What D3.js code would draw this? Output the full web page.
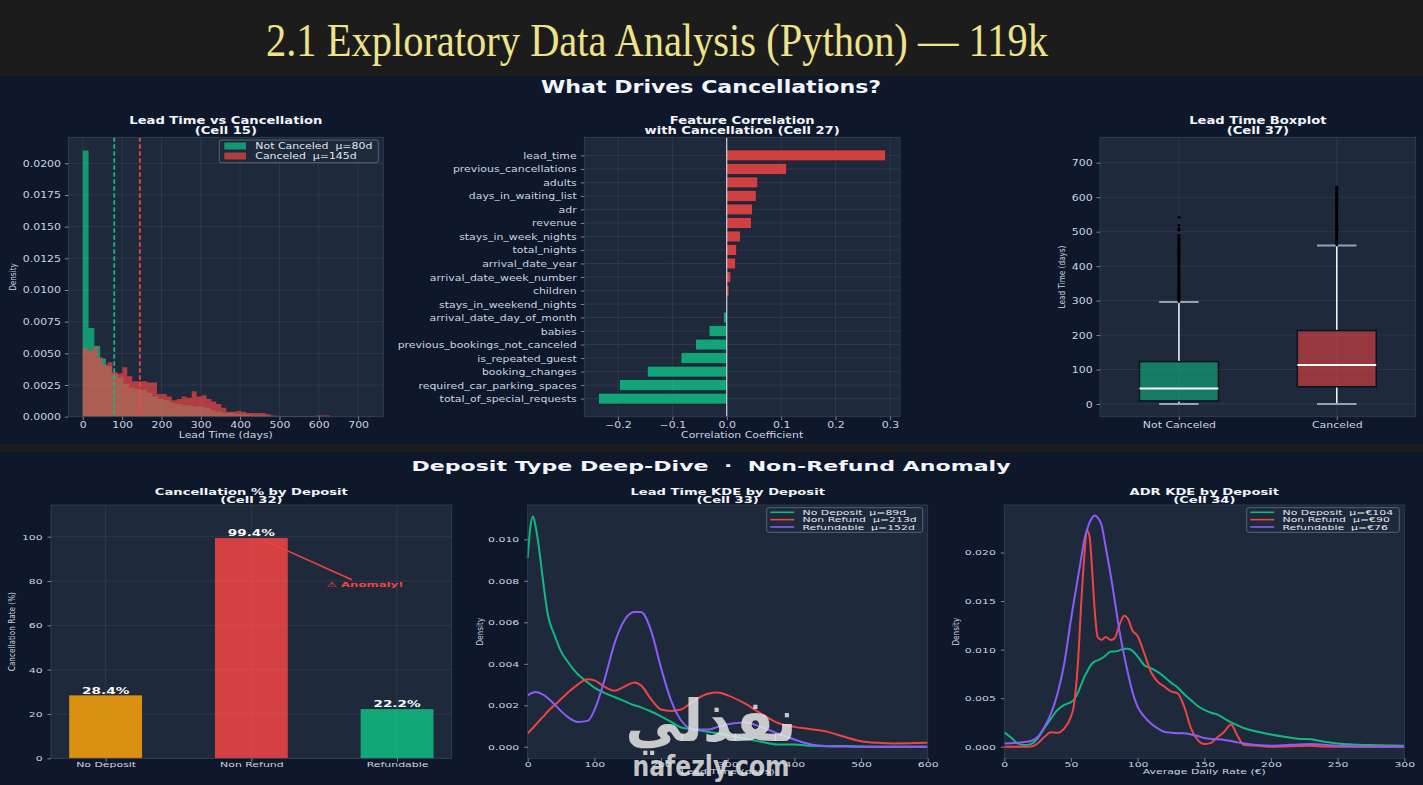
<!DOCTYPE html>
<html><head><meta charset="utf-8">
<script src="https://cdn.jsdelivr.net/npm/d3@7"></script>
<style>body{margin:0;background:#1c1c1c;overflow:hidden}svg{display:block}</style>
</head><body><svg id="c" width="1423" height="785"></svg>
<script>
// ---------------- DATA ----------------
const pageTitle = "2.1 Exploratory Data Analysis (Python) — 119k";
const topHeading = "What Drives Cancellations?";
const bottomHeading = "Deposit Type Deep-Dive  ·  Non-Refund Anomaly";

// Lead time histograms (density, 50 bins each)
const histRangeNotCanceled = [0, 737];
const histNotCanceled = [0.0210,0.0070,0.0056,0.0046,0.0040,0.0034,0.0031,0.0026,0.0023,0.0022,
  0.0021,0.0019,0.0016,0.0014,0.0013,0.0011,0.0010,0.0009,0.0009,0.0008,
  0.0008,0.0007,0.0005,0.0004,0.0003,0.0003,0.0002,0.0002,0.00015,0.0001,
  0.0001,0.00008,0.00005,0.00004,0.00003,0.00002,0.00002,0.00001,0.00001,0.00001,
  0.00001,0,0,0,0,0,0,0,0,0.00001];
const histRangeCanceled = [0, 629];
const histCanceled = [0.0054,0.0052,0.0055,0.0047,0.0041,0.0043,0.0035,0.0034,0.0039,0.0032,
  0.0028,0.0028,0.0028,0.0027,0.0027,0.0018,0.0018,0.0016,0.0013,0.0014,
  0.0016,0.0015,0.0020,0.0016,0.0017,0.0014,0.0012,0.0010,0.0007,0.0004,
  0.0004,0.00045,0.0004,0.0003,0.0003,0.0003,0.0003,0.0002,0.0001,0.00008,
  0.00006,0.00006,0.00005,0.00005,0.00005,0.00005,0.00005,0.0001,0.0001,0.0001];
const leadMeans = [80, 145];
const histLegend = ["Not Canceled  μ=80d", "Canceled  μ=145d"];
const histXTicks = [0,100,200,300,400,500,600,700];
const histYTicks = [0,0.0025,0.005,0.0075,0.01,0.0125,0.015,0.0175,0.02];

// Feature correlation
const corrFeatures = ["lead_time","previous_cancellations","adults","days_in_waiting_list","adr","revenue",
  "stays_in_week_nights","total_nights","arrival_date_year","arrival_date_week_number","children",
  "stays_in_weekend_nights","arrival_date_day_of_month","babies","previous_bookings_not_canceled",
  "is_repeated_guest","booking_changes","required_car_parking_spaces","total_of_special_requests"];
const corrValues = [0.292,0.110,0.057,0.054,0.047,0.045,0.025,0.018,0.016,0.0075,0.004,-0.0018,-0.006,
  -0.0325,-0.057,-0.084,-0.146,-0.197,-0.2355];
const corrXTicks = [-0.2,-0.1,0,0.1,0.2,0.3];

// Boxplot
const boxGroups = ["Not Canceled","Canceled"];
const boxLow = [0, 0];
const boxQ1 = [9, 50];
const boxMedian = [45, 113];
const boxQ3 = [123, 213];
const boxHigh = [296, 460];
const outliersNotCanceled = [297,300,302,305,308,310,313,316,318,321,324,327,329,332,335,338,341,343,346,349,
  352,355,357,360,363,366,369,371,374,377,380,383,386,389,392,395,398,401,404,407,410,413,416,419,422,425,
  428,431,434,437,440,443,446,449,452,455,458,461,464,467,470,473,476,479,482,489,504,509,518,542];
const outliersCanceled = [462,465,468,471,474,477,480,483,486,489,492,495,498,501,504,507,510,513,516,519,
  522,525,528,531,534,537,540,543,546,549,552,555,558,561,564,567,570,573,576,579,582,585,588,591,594,597,
  600,603,606,609,612,615,618,622,626,629];
const boxYTicks = [0,100,200,300,400,500,600,700];

// Cancellation % by deposit
const depositTypes = ["No Deposit","Non Refund","Refundable"];
const cancelRate = [28.4, 99.4, 22.2];
const barYTicks = [0,20,40,60,80,100];
const anomalyText = "⚠ Anomaly!";
const anomalyFrom = [1.08, 98.6];
const anomalyTo = [1.69, 80.6];
const anomalyLabelAt = [1.78, 77.5];

// Lead time KDE by deposit
const leadKdeX = [0,4,8,12,16,20,25,30,40,50,60,75,90,100,115,130,145,160,170,185,200,215,230,250,270,285,
  300,325,350,375,400,425,450,475,500,525,550,600];
const leadKdeNoDeposit = [0.0091,0.0106,0.0111,0.0106,0.0098,0.0088,0.0075,0.0064,0.0054,0.0046,0.0041,0.0035,
  0.0031,0.00285,0.0026,0.0024,0.0022,0.0020,0.0019,0.0017,0.00147,0.0012,0.00093,0.00083,0.00072,0.00065,
  0.00056,0.0004,0.00024,0.00011,0.00011,0.00005,0.00003,0.00004,0.00001,0,0,0];
const leadKdeNonRefund = [0.00064,0.00078,0.00092,0.00106,0.0012,0.00135,0.0015,0.0017,0.002,0.0023,0.0026,0.0030,
  0.00325,0.0032,0.0029,0.0027,0.0029,0.0031,0.00296,0.0023,0.0018,0.00173,0.0018,0.00224,0.00256,0.00262,
  0.00248,0.0021,0.0016,0.00115,0.00096,0.00085,0.00072,0.00048,0.00027,0.00019,0.00016,0.00019];
const leadKdeRefundable = [0.00248,0.00256,0.00262,0.00264,0.00262,0.00256,0.00248,0.00235,0.00205,0.00172,0.00144,
  0.0012,0.00125,0.00176,0.0032,0.00496,0.0061,0.0065,0.0065,0.0056,0.0038,0.00224,0.00128,0.00083,0.00083,
  0.00096,0.00109,0.00117,0.00096,0.00064,0.00035,0.00011,0.00003,0.00001,0,0,0,0];
const leadKdeLegend = ["No Deposit  μ=89d","Non Refund  μ=213d","Refundable  μ=152d"];
const leadKdeXTicks = [0,100,200,300,400,500,600];
const leadKdeYTicks = [0,0.002,0.004,0.006,0.008,0.010];

// ADR KDE by deposit
const adrKdeX = [0,5,10,15,20,25,30,35,40,45,50,52,55,58,60,62,64,66,68,70,73,76,80,83,86,90,93,96,100,105,110,
  115,120,125,130,135,140,145,150,155,160,165,170,175,180,190,200,210,220,230,240,250,275,300];
const adrKdeNoDeposit = [0.00148,0.00096,0.00034,0.00017,0.00027,0.00086,0.0019,0.0029,0.0038,0.0043,0.0046,0.0048,
  0.0055,0.0065,0.0072,0.0077,0.0082,0.0086,0.0088,0.0089,0.0091,0.0094,0.0098,0.0098,0.0099,0.0101,0.0101,
  0.0099,0.0093,0.0084,0.0081,0.0077,0.0072,0.0066,0.0061,0.0054,0.0048,0.0042,0.0038,0.0035,0.0033,0.0029,
  0.0025,0.0022,0.0019,0.00155,0.00127,0.00103,0.00082,0.00076,0.00052,0.00034,0.00017,0.0001];
const adrKdeNonRefund = [0,0,0,0,0.00002,0.00034,0.001,0.0015,0.00144,0.0019,0.0031,0.0041,0.0082,0.0155,0.0196,
  0.0223,0.0216,0.0179,0.0137,0.0113,0.0110,0.0113,0.0110,0.0112,0.0124,0.0135,0.0131,0.0120,0.0114,0.0096,
  0.0077,0.0067,0.0062,0.0057,0.0055,0.0041,0.0019,0.0007,0.00027,0.0004,0.001,0.00155,0.0023,0.0011,0.00017,
  0.0001,0,0.00003,0.00008,0.0001,0.00003,0,0,0];
const adrKdeRefundable = [0.00034,0.00037,0.0004,0.0005,0.0006,0.001,0.002,0.0034,0.0055,0.0086,0.0131,0.0148,
  0.0172,0.0197,0.0213,0.0223,0.0231,0.0236,0.0238,0.0236,0.0228,0.0206,0.0175,0.0149,0.0122,0.0093,0.0074,
  0.0057,0.0041,0.0031,0.0024,0.0019,0.00155,0.00145,0.0014,0.0014,0.00127,0.0011,0.0009,0.0008,0.00076,0.0007,
  0.0006,0.00045,0.00034,0.00017,0.0001,0.00015,0.00024,0.00027,0.0002,0.0001,0.00002,0];
const adrKdeLegend = ["No Deposit  μ=€104","Non Refund  μ=€90","Refundable  μ=€76"];
const adrKdeXTicks = [0,50,100,150,200,250,300];
const adrKdeYTicks = [0,0.005,0.010,0.015,0.020];

// ---------------- STYLE ----------------
const FONT = "'DejaVu Sans', Verdana, sans-serif";
const FIGBG = '#0f172a', AXBG = '#1e293b', EDGE = '#334155';
const GRID = 'rgba(148,163,184,0.16)', TXT = '#cbd5e1', TTL = '#f1f5f9', TICK = '#94a3b8';
const GREEN = '#10b981', RED = '#ef4444', AMBER = '#f59e0b', PURPLE = '#8b5cf6';
const SX = 1.3;            // horizontal stretch of the figure text
const SYT = 1.0, SYB = 0.8; // vertical factor top / bottom figures

const svg = d3.select('#c');
svg.append('rect').attr('width',1423).attr('height',785).attr('fill','#1c1c1c');
svg.append('rect').attr('y',76).attr('width',1423).attr('height',368).attr('fill',FIGBG);
svg.append('rect').attr('y',452).attr('width',1423).attr('height',333).attr('fill',FIGBG);

function txt(g, x, y, s, o = {}) {
  let tr = `translate(${x},${y}) scale(${o.sx ?? SX},${o.sy ?? 1})`;
  if (o.rot) tr += ` rotate(${o.rot})`;
  return g.append('text').attr('transform', tr).attr('text-anchor', o.anchor || 'middle')
    .attr('font-family', o.font || FONT).attr('font-size', o.size || 8.4)
    .attr('font-weight', o.weight || 'normal').attr('fill', o.fill || TXT)
    .style('white-space', 'pre').text(s);
}
function styleAxis(a) {
  a.select('.domain').remove();
  a.attr('font-family', null).attr('font-size', null);
  a.selectAll('line').attr('stroke', TICK).attr('stroke-width', 0.8);
  a.selectAll('text').attr('fill', TXT).attr('font-family', FONT).attr('font-size', 8.4);
}
function xAxis(g, x, B, ticks, fmt, base, sy) {
  const a = g.append('g').attr('transform', `translate(0,${B})`)
    .call(d3.axisBottom(x).tickValues(ticks).tickFormat(fmt).tickSize(3.5));
  styleAxis(a);
  a.selectAll('text').attr('y', null).attr('dy', null)
    .attr('transform', `translate(0,${base}) scale(${SX},${sy})`);
}
function yAxis(g, y, L, ticks, fmt, pad, dyb, sy) {
  const a = g.append('g').attr('transform', `translate(${L},0)`)
    .call(d3.axisLeft(y).tickValues(ticks).tickFormat(fmt).tickSize(3.5));
  styleAxis(a);
  a.selectAll('text').attr('x', null).attr('dy', null)
    .attr('transform', `translate(${-pad},${dyb}) scale(${SX},${sy})`);
}
function frame(g, L, R, T, B) {
  g.append('rect').attr('x', L).attr('y', T).attr('width', R - L).attr('height', B - T).attr('fill', AXBG);
}
function border(g, L, R, T, B) {
  g.append('rect').attr('x', L).attr('y', T).attr('width', R - L).attr('height', B - T)
    .attr('fill', 'none').attr('stroke', EDGE).attr('stroke-width', 0.8);
}
function vgrid(g, x, ticks, T, B) {
  g.append('g').selectAll('line').data(ticks).join('line')
    .attr('x1', d => x(d)).attr('x2', d => x(d)).attr('y1', T).attr('y2', B)
    .attr('stroke', GRID).attr('stroke-width', 0.8);
}
function hgrid(g, y, ticks, L, R) {
  g.append('g').selectAll('line').data(ticks).join('line')
    .attr('y1', d => y(d)).attr('y2', d => y(d)).attr('x1', L).attr('x2', R)
    .attr('stroke', GRID).attr('stroke-width', 0.8);
}
function title2(g, cx, y1, y2, a, b, sy) {
  txt(g, cx, y1, a, {size: 10.1, weight: 'bold', fill: TTL, sy});
  txt(g, cx, y2, b, {size: 10.1, weight: 'bold', fill: TTL, sy});
}

// ---------------- PAGE TITLE ----------------
svg.append('text').attr('x', 266).attr('y', 56).attr('font-family', "'Liberation Serif', 'DejaVu Serif', serif")
  .attr('font-size', 46).attr('fill', '#ede38a').attr('textLength', 782).attr('lengthAdjust', 'spacingAndGlyphs')
  .text(pageTitle);
txt(svg, 711, 92.5, topHeading, {size: 17, weight: 'bold', fill: TTL});
txt(svg, 711, 471, bottomHeading, {size: 17, weight: 'bold', fill: TTL, sy: 0.85});

// ---------------- PANEL 1: histogram ----------------
{
  const L = 68.3, R = 383.3, T = 137.3, B = 416.7;
  const g = svg.append('g');
  frame(g, L, R, T, B);
  const x = d3.scaleLinear().domain([-36.8, 764]).range([L, R]);
  const y = d3.scaleLinear().domain([0, 0.02205]).range([B, T]);
  const steps = (vals, rng) => {
    const w = (rng[1] - rng[0]) / vals.length;
    const pts = vals.map((v, i) => ({x: rng[0] + i * w, v}));
    pts.push({x: rng[1], v: vals[vals.length - 1]});
    return pts;
  };
  const area = d3.area().curve(d3.curveStepAfter).x(d => x(d.x)).y0(y(0)).y1(d => y(d.v));
  g.append('path').attr('d', area(steps(histNotCanceled, histRangeNotCanceled))).attr('fill', GREEN).attr('fill-opacity', 0.78);
  g.append('path').attr('d', area(steps(histCanceled, histRangeCanceled))).attr('fill', RED).attr('fill-opacity', 0.7);
  vgrid(g, x, histXTicks, T, B);
  hgrid(g, y, histYTicks, L, R);
  g.selectAll('.mean').data(leadMeans).join('line')
    .attr('x1', d => x(d)).attr('x2', d => x(d)).attr('y1', T).attr('y2', B)
    .attr('stroke', (d, i) => i ? RED : GREEN).attr('stroke-width', 1.8).attr('stroke-dasharray', '4.5,2.5');
  border(g, L, R, T, B);
  xAxis(g, x, B, histXTicks, d3.format('d'), 10.8, SYT);
  yAxis(g, y, L, histYTicks, d3.format('.4f'), 7.3, 3, SYT);
  // legend
  g.append('rect').attr('x', 219.3).attr('y', 140).attr('width', 159).attr('height', 22.7).attr('rx', 2)
    .attr('fill', AXBG).attr('fill-opacity', 0.85).attr('stroke', '#64748b').attr('stroke-width', 0.8);
  histLegend.forEach((s, i) => {
    g.append('rect').attr('x', 224.3).attr('y', 142.5 + i * 10).attr('width', 21.7).attr('height', 7)
      .attr('fill', i ? RED : GREEN).attr('fill-opacity', i ? 0.7 : 0.78);
    txt(g, 255.3, 149.2 + i * 10, s, {anchor: 'start', fill: '#e2e8f0'});
  });
  title2(g, (L + R) / 2, 123.5, 133.5, "Lead Time vs Cancellation", "(Cell 15)", SYT);
  txt(g, (L + R) / 2, 437.5, "Lead Time (days)", {});
  txt(g, 16, (T + B) / 2, "Density", {size: 7.3, rot: -90});
}

// ---------------- PANEL 2: correlation ----------------
{
  const L = 584.3, R = 900, T = 137.3, B = 416.7;
  const g = svg.append('g');
  frame(g, L, R, T, B);
  const x = d3.scaleLinear().domain([-0.2619, 0.3185]).range([L, R]);
  const y = d3.scaleLinear().domain([-1.34, 19.34]).range([T, B]);
  const idx = corrFeatures.map((d, i) => i);
  vgrid(g, x, corrXTicks, T, B);
  hgrid(g, y, idx, L, R);
  const bh = y(0.8) - y(0);
  g.selectAll('.bar').data(corrValues).join('rect')
    .attr('x', d => x(Math.min(0, d))).attr('width', d => Math.abs(x(d) - x(0)))
    .attr('y', (d, i) => y(i) - bh / 2).attr('height', bh)
    .attr('fill', d => d > 0 ? RED : GREEN).attr('fill-opacity', 0.85)
    .attr('stroke', '#0f172a').attr('stroke-width', 0.5);
  g.append('line').attr('x1', x(0)).attr('x2', x(0)).attr('y1', T).attr('y2', B)
    .attr('stroke', '#f1f5f9').attr('stroke-width', 1);
  border(g, L, R, T, B);
  xAxis(g, x, B, corrXTicks, d => d === 0 ? '0.0' : d3.format('.1f')(d).replace('-', '−'), 10.8, SYT);
  yAxis(g, y, L, idx, i => corrFeatures[i], 7.6, 3, SYT);
  title2(g, (L + R) / 2, 123.5, 133.5, "Feature Correlation", "with Cancellation (Cell 27)", SYT);
  txt(g, (L + R) / 2, 437.5, "Correlation Coefficient", {});
}

// ---------------- PANEL 3: boxplot ----------------
{
  const L = 1100, R = 1415.7, T = 137.3, B = 416.7;
  const g = svg.append('g');
  frame(g, L, R, T, B);
  const x = d3.scaleLinear().domain([0.5, 2.5]).range([L, R]);
  const y = d3.scaleLinear().domain([-36.85, 773.85]).range([B, T]);
  const pos = boxGroups.map((d, i) => i + 1);
  vgrid(g, x, pos, T, B);
  hgrid(g, y, boxYTicks, L, R);
  const bw = x(1.25) - x(1), cw = x(1.125) - x(1);
  pos.forEach((p, i) => {
    const cx = x(p), col = i ? RED : GREEN;
    g.append('line').attr('x1', cx).attr('x2', cx).attr('y1', y(boxLow[i])).attr('y2', y(boxQ1[i])).attr('stroke', '#f8fafc').attr('stroke-width', 1.5);
    g.append('line').attr('x1', cx).attr('x2', cx).attr('y1', y(boxQ3[i])).attr('y2', y(boxHigh[i])).attr('stroke', '#f8fafc').attr('stroke-width', 1.5);
    [boxLow[i], boxHigh[i]].forEach(v => g.append('line').attr('x1', cx - cw).attr('x2', cx + cw)
      .attr('y1', y(v)).attr('y2', y(v)).attr('stroke', TICK).attr('stroke-width', 2));
    g.append('rect').attr('x', cx - bw).attr('width', 2 * bw).attr('y', y(boxQ3[i])).attr('height', y(boxQ1[i]) - y(boxQ3[i]))
      .attr('fill', col).attr('fill-opacity', 0.58).attr('stroke', '#0b1220').attr('stroke-width', 1.5);
    g.append('line').attr('x1', cx - bw).attr('x2', cx + bw).attr('y1', y(boxMedian[i])).attr('y2', y(boxMedian[i]))
      .attr('stroke', '#f8fafc').attr('stroke-width', 2);
    g.selectAll('.o' + i).data(i ? outliersCanceled : outliersNotCanceled).join('circle')
      .attr('cx', cx).attr('cy', d => y(d)).attr('r', 1.4).attr('fill', '#000');
  });
  border(g, L, R, T, B);
  xAxis(g, x, B, pos, i => boxGroups[i - 1], 10.8, SYT);
  yAxis(g, y, L, boxYTicks, d3.format('d'), 7.3, 3, SYT);
  title2(g, (L + R) / 2, 123.5, 133.5, "Lead Time Boxplot", "(Cell 37)", SYT);
  txt(g, 1065, (T + B) / 2, "Lead Time (days)", {size: 7.3, rot: -90});
}

// ---------------- PANEL 4: bar chart ----------------
{
  const L = 51, R = 451.7, T = 505, B = 758.3;
  const g = svg.append('g');
  frame(g, L, R, T, B);
  const x = d3.scaleLinear().domain([-0.375, 2.375]).range([L, R]);
  const y = d3.scaleLinear().domain([0, 114.31]).range([B, T]);
  const cols = [AMBER, RED, GREEN];
  const pos = depositTypes.map((d, i) => i);
  g.selectAll('.bar').data(cancelRate).join('rect')
    .attr('x', (d, i) => x(i - 0.25)).attr('width', x(0.25) - x(-0.25))
    .attr('y', d => y(d)).attr('height', d => B - y(d))
    .attr('fill', (d, i) => cols[i]).attr('fill-opacity', 0.88);
  vgrid(g, x, pos, T, B);
  hgrid(g, y, barYTicks, L, R);
  cancelRate.forEach((d, i) => {
    txt(g, x(i), y(d) - 1.8, d.toFixed(1) + '%', {size: 10.5, weight: 'bold', fill: '#f8fafc', sy: SYB});
  });
  g.append('line').attr('x1', x(anomalyFrom[0])).attr('y1', y(anomalyFrom[1]))
    .attr('x2', x(anomalyTo[0])).attr('y2', y(anomalyTo[1])).attr('stroke', RED).attr('stroke-width', 1.5);
  txt(g, x(anomalyLabelAt[0]), y(anomalyLabelAt[1]), anomalyText, {size: 9, weight: 'bold', fill: RED, sy: SYB});
  border(g, L, R, T, B);
  xAxis(g, x, B, pos, i => depositTypes[i], 8.7, SYB);
  yAxis(g, y, L, barYTicks, d3.format('d'), 8.3, 2.5, SYB);
  title2(g, (L + R) / 2, 495, 503, "Cancellation % by Deposit", "(Cell 32)", SYB);
  txt(g, 15, (T + B) / 2, "Cancellation Rate (%)", {size: 7.3, rot: -90});
}

// ---------------- KDE panels ----------------
function kdePanel(L, R, xDom, yDom, xs, series, xTicks, yTicks, legend, lgX, ttl, xlab, ylabX) {
  const T = 505, B = 758.3;
  const g = svg.append('g');
  frame(g, L, R, T, B);
  const x = d3.scaleLinear().domain(xDom).range([L, R]);
  const y = d3.scaleLinear().domain(yDom).range([B, T]);
  const cols = [GREEN, RED, PURPLE];
  const line = d3.line().curve(d3.curveMonotoneX).x((d, i) => x(xs[i])).y(d => y(d));
  series.forEach((s, k) => g.append('path').attr('d', line(s)).attr('fill', 'none')
    .attr('stroke', cols[k]).attr('stroke-width', 2).attr('stroke-linejoin', 'round'));
  border(g, L, R, T, B);
  xAxis(g, x, B, xTicks, d3.format('d'), 8.7, SYB);
  yAxis(g, y, L, yTicks, d3.format('.3f'), 8.4, 2.5, SYB);
  g.append('rect').attr('x', lgX).attr('y', 507.7).attr('width', R - 5 - lgX).attr('height', 24.6).attr('rx', 2)
    .attr('fill', AXBG).attr('fill-opacity', 0.85).attr('stroke', '#64748b').attr('stroke-width', 0.8);
  legend.forEach((s, k) => {
    const cy = 512.3 + k * 7.35;
    g.append('line').attr('x1', lgX + 3.5).attr('x2', lgX + 27.5).attr('y1', cy).attr('y2', cy)
      .attr('stroke', cols[k]).attr('stroke-width', 1.6);
    txt(g, lgX + 35.8, cy + 2.6, s, {anchor: 'start', fill: '#e2e8f0', sy: SYB});
  });
  title2(g, (L + R) / 2, 495, 503, ttl[0], ttl[1], SYB);
  txt(g, (L + R) / 2, 774, xlab, {sy: SYB});
  txt(g, ylabX, (T + B) / 2, "Density", {size: 7.3, rot: -90});
}
kdePanel(527.7, 927.7, [0, 600], [-0.000555, 0.011655], leadKdeX,
  [leadKdeNoDeposit, leadKdeNonRefund, leadKdeRefundable], leadKdeXTicks, leadKdeYTicks,
  leadKdeLegend, 766.7, ["Lead Time KDE by Deposit", "(Cell 33)"], "Lead Time (days)", 482.5);
kdePanel(1004.3, 1404.3, [0, 300], [-0.00119, 0.02489], adrKdeX,
  [adrKdeNoDeposit, adrKdeNonRefund, adrKdeRefundable], adrKdeXTicks, adrKdeYTicks,
  adrKdeLegend, 1246.7, ["ADR KDE by Deposit", "(Cell 34)"], "Average Daily Rate (€)", 959);

// ---------------- watermark ----------------
svg.append('text').attr('x', 711).attr('y', 741).attr('text-anchor', 'middle')
  .attr('font-family', "'DejaVu Sans', sans-serif").attr('font-weight', 'bold').attr('font-size', 58)
  .attr('fill', '#e5e5e5').attr('fill-opacity', 0.85).attr('textLength', 171).attr('lengthAdjust', 'spacingAndGlyphs')
  .text('نفذلي');
svg.append('text').attr('x', 711).attr('y', 776).attr('text-anchor', 'middle')
  .attr('font-family', "'DejaVu Sans', sans-serif").attr('font-weight', 'bold').attr('font-size', 28)
  .attr('fill', '#e5e5e5').attr('fill-opacity', 0.85).attr('textLength', 157).attr('lengthAdjust', 'spacingAndGlyphs')
  .text('nafezly.com');
</script></body></html>
